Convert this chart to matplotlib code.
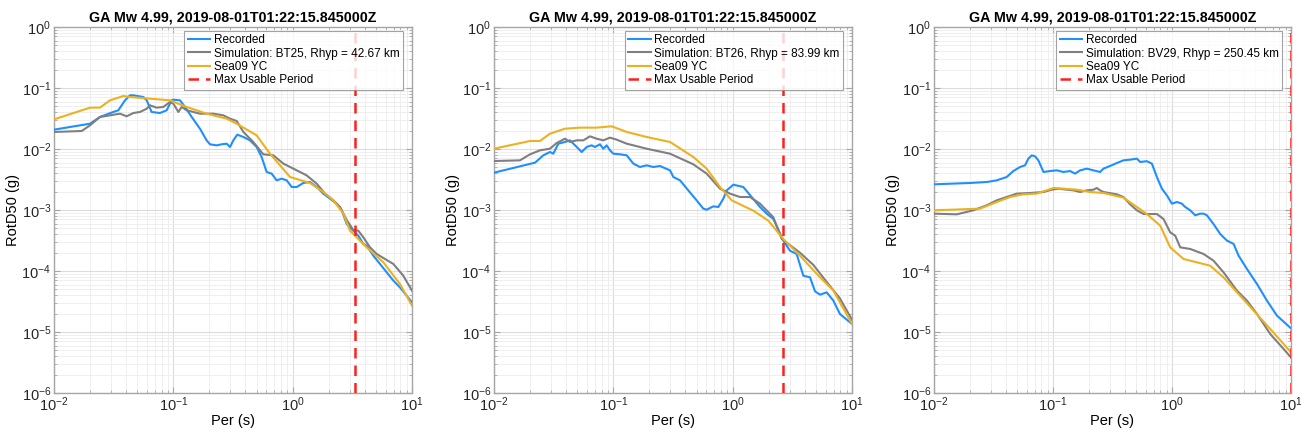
import numpy as np
import matplotlib
matplotlib.use("Agg")
import matplotlib.pyplot as plt
from matplotlib.ticker import LogLocator, NullFormatter

plt.rcParams['font.family'] = ['Liberation Sans', 'DejaVu Sans']
plt.rcParams['mathtext.fontset'] = 'custom'
plt.rcParams['mathtext.rm'] = 'Liberation Sans'

# ---------------- data (log10 period [s], log10 RotD50 [g]) ----------------
title = "GA Mw 4.99, 2019-08-01T01:22:15.845000Z"
sim_labels = ["Simulation: BT25, Rhyp = 42.67 km",
              "Simulation: BT26, Rhyp = 83.99 km",
              "Simulation: BV29, Rhyp = 250.45 km"]
max_usable_period = [3.33, 2.62, 10.0]

# Panel 1
rec1_logT = [-2.00, -1.698, -1.615, -1.503, -1.461, -1.405, -1.363, -1.335, -1.251, -1.223, -1.182, -1.112,
             -1.056, -1.014, -1.000, -0.944, -0.902, -0.846, -0.777, -0.721, -0.693, -0.637, -0.595, -0.553,
             -0.525, -0.497, -0.464, -0.413, -0.358, -0.302, -0.260, -0.218, -0.176, -0.134, -0.092, -0.050,
             -0.008, 0.034, 0.089, 0.145, 0.201, 0.257, 0.313, 0.369, 0.411, 0.453, 0.480, 0.508, 0.550,
             0.592, 0.620, 0.676, 0.732, 0.788, 0.844, 0.899, 1.000]
rec1_logSA = [-1.683, -1.585, -1.475, -1.393, -1.366, -1.202, -1.120, -1.120, -1.148, -1.202, -1.393, -1.410,
              -1.366, -1.202, -1.191, -1.202, -1.311, -1.475, -1.667, -1.858, -1.923, -1.940, -1.923, -1.913,
              -1.967, -1.858, -1.765, -1.803, -1.858, -1.967, -2.131, -2.377, -2.404, -2.514, -2.486, -2.514,
              -2.623, -2.623, -2.557, -2.541, -2.623, -2.732, -2.814, -2.896, -3.005, -3.230, -3.284, -3.339,
              -3.421, -3.557, -3.585, -3.749, -3.885, -4.022, -4.158, -4.268, -4.514]
sim1_logT = [-2.00, -1.768, -1.698, -1.615, -1.531, -1.447, -1.391, -1.335, -1.279, -1.223, -1.196, -1.140,
             -1.084, -1.028, -1.000, -0.958, -0.930, -0.888, -0.832, -0.777, -0.665, -0.581, -0.525, -0.469,
             -0.413, -0.330, -0.246, -0.162, -0.078, 0.006, 0.061, 0.117, 0.201, 0.271, 0.341, 0.397, 0.453,
             0.508, 0.550, 0.592, 0.648, 0.704, 0.760, 0.844, 0.927, 1.000]
sim1_logSA = [-1.721, -1.705, -1.612, -1.475, -1.448, -1.421, -1.464, -1.410, -1.393, -1.339, -1.284, -1.322,
              -1.311, -1.230, -1.257, -1.393, -1.311, -1.366, -1.393, -1.421, -1.421, -1.448, -1.503, -1.541,
              -1.721, -1.885, -2.087, -2.104, -2.240, -2.322, -2.377, -2.432, -2.568, -2.732, -2.842, -2.951,
              -3.164, -3.328, -3.339, -3.448, -3.612, -3.721, -3.787, -3.885, -4.077, -4.322]
gmm1_logT = [-2.00, -1.698, -1.615, -1.531, -1.419, -1.363, -1.196, -1.028, -0.888, -0.721, -0.553, -0.469,
             -0.302, -0.190, -0.022, 0.145, 0.257, 0.341, 0.425, 0.480, 0.620, 0.760, 0.899, 1.000]
gmm1_logSA = [-1.514, -1.322, -1.322, -1.202, -1.131, -1.148, -1.175, -1.202, -1.311, -1.421, -1.503, -1.585,
              -1.776, -2.077, -2.459, -2.557, -2.705, -2.842, -3.060, -3.339, -3.612, -3.858, -4.213, -4.568]

# Panel 2
rec2_logT = [-2.00, -1.656, -1.587, -1.531, -1.503, -1.461, -1.405, -1.363, -1.307, -1.265, -1.223, -1.182,
             -1.154, -1.112, -1.084, -1.056, -1.028, -1.000, -0.944, -0.888, -0.832, -0.777, -0.721, -0.665,
             -0.609, -0.525, -0.497, -0.441, -0.372, -0.302, -0.246, -0.218, -0.162, -0.120, -0.078, -0.050,
             0.006, 0.089, 0.159, 0.229, 0.285, 0.341, 0.425, 0.480, 0.536, 0.592, 0.648, 0.690, 0.732,
             0.788, 0.844, 0.899, 1.000]
rec2_logSA = [-2.388, -2.224, -2.104, -2.049, -2.077, -1.913, -1.885, -1.858, -1.967, -2.049, -1.967, -1.940,
              -1.967, -1.923, -1.995, -1.940, -2.022, -2.077, -2.087, -2.104, -2.240, -2.295, -2.268, -2.295,
              -2.279, -2.350, -2.459, -2.514, -2.678, -2.842, -2.978, -2.995, -2.940, -2.951, -2.814, -2.678,
              -2.585, -2.623, -2.787, -2.951, -3.060, -3.148, -3.503, -3.667, -3.721, -4.077, -4.104, -4.333,
              -4.388, -4.350, -4.486, -4.705, -4.869]
sim2_logT = [-2.00, -1.782, -1.698, -1.615, -1.531, -1.475, -1.405, -1.363, -1.307, -1.251, -1.196, -1.140,
             -1.084, -1.028, -0.972, -0.888, -0.721, -0.525, -0.330, -0.218, -0.106, -0.022, 0.061, 0.145,
             0.229, 0.341, 0.411, 0.564, 0.676, 0.788, 0.899, 1.000]
sim2_logSA = [-2.197, -2.186, -2.087, -2.022, -1.995, -1.902, -1.831, -1.885, -1.858, -1.858, -1.792, -1.831,
              -1.858, -1.814, -1.847, -1.913, -1.995, -2.077, -2.251, -2.404, -2.650, -2.732, -2.787, -2.787,
              -2.896, -3.120, -3.475, -3.700, -3.900, -4.180, -4.450, -4.800]
gmm2_logT = [-2.00, -1.698, -1.615, -1.531, -1.405, -1.279, -1.140, -1.014, -0.888, -0.721, -0.525, -0.330,
             -0.218, -0.106, -0.008, 0.173, 0.299, 0.425, 0.564, 0.732, 0.844, 1.000]
gmm2_logSA = [-1.995, -1.869, -1.869, -1.749, -1.667, -1.650, -1.650, -1.628, -1.721, -1.803, -1.885, -2.131,
              -2.322, -2.623, -2.842, -3.011, -3.175, -3.475, -3.749, -4.104, -4.322, -4.869]

# Panel 3
rec3_logT = [-2.000, -1.697, -1.557, -1.473, -1.389, -1.333, -1.277, -1.235, -1.207, -1.179, -1.151, -1.123,
             -1.080, -1.024, -0.968, -0.912, -0.856, -0.814, -0.772, -0.716, -0.660, -0.604, -0.576, -0.520,
             -0.464, -0.408, -0.352, -0.295, -0.267, -0.211, -0.169, -0.127, -0.085, -0.043, -0.001, 0.041,
             0.083, 0.111, 0.153, 0.195, 0.237, 0.265, 0.293, 0.349, 0.405, 0.461, 0.518, 0.560, 0.630,
             0.714, 0.798, 0.882, 1.000]
rec3_logSA = [-2.579, -2.557, -2.541, -2.514, -2.459, -2.361, -2.295, -2.268, -2.158, -2.104, -2.120, -2.186,
              -2.377, -2.361, -2.350, -2.377, -2.361, -2.404, -2.350, -2.322, -2.350, -2.377, -2.322, -2.278,
              -2.230, -2.186, -2.175, -2.158, -2.213, -2.200, -2.240, -2.459, -2.650, -2.760, -2.896, -2.869,
              -2.896, -2.951, -3.005, -3.087, -3.060, -3.060, -3.087, -3.230, -3.393, -3.500, -3.557, -3.750,
              -3.967, -4.213, -4.486, -4.732, -4.940]
sim3_logT = [-2.000, -1.809, -1.669, -1.557, -1.473, -1.389, -1.305, -1.193, -1.080, -1.010, -0.954, -0.884,
             -0.828, -0.772, -0.716, -0.660, -0.632, -0.604, -0.576, -0.464, -0.408, -0.352, -0.295, -0.239,
             -0.127, -0.071, -0.015, 0.027, 0.069, 0.153, 0.265, 0.349, 0.433, 0.546, 0.630, 0.714, 0.826,
             0.938, 1.000]
sim3_logSA = [-3.060, -3.071, -3.005, -2.923, -2.842, -2.787, -2.732, -2.721, -2.705, -2.667, -2.650, -2.667,
              -2.678, -2.705, -2.678, -2.667, -2.639, -2.678, -2.705, -2.743, -2.787, -2.907, -3.005, -3.066,
              -3.066, -3.148, -3.366, -3.421, -3.612, -3.639, -3.721, -3.831, -4.022, -4.322, -4.486, -4.705,
              -5.033, -5.279, -5.415]
gmm3_logT = [-2.000, -1.613, -1.473, -1.361, -1.249, -1.137, -0.996, -0.912, -0.800, -0.688, -0.576, -0.408,
             -0.295, -0.211, -0.099, -0.015, 0.097, 0.209, 0.321, 0.433, 0.546, 0.686, 0.826, 1.000]
gmm3_logSA = [-3.005, -2.978, -2.869, -2.787, -2.743, -2.732, -2.639, -2.650, -2.667, -2.705, -2.721, -2.798,
              -2.951, -3.066, -3.257, -3.612, -3.803, -3.858, -3.913, -4.104, -4.350, -4.650, -4.951, -5.333]

panels = [
    (rec1_logT, rec1_logSA, sim1_logT, sim1_logSA, gmm1_logT, gmm1_logSA),
    (rec2_logT, rec2_logSA, sim2_logT, sim2_logSA, gmm2_logT, gmm2_logSA),
    (rec3_logT, rec3_logSA, sim3_logT, sim3_logSA, gmm3_logT, gmm3_logSA),
]

# ---------------- styling ----------------
C_REC = '#1f8fff'
C_SIM = '#7f7f7f'
C_GMM = '#edb120'
C_MUP = '#ff1f1f'
C_AX = '#a6a6a6'

W, H = 1309, 437
fig = plt.figure(figsize=(W / 100, H / 100), dpi=100)
lefts = [54, 494, 934]
widths = [358, 358, 357]
top_px, bot_px = 27, 393

for i, (rT, rS, sT, sS, gT, gS) in enumerate(panels):
    ax = fig.add_axes([lefts[i] / W, (H - bot_px) / H, widths[i] / W, (bot_px - top_px) / H])
    ax.set_xscale('log')
    ax.set_yscale('log')
    ax.set_xlim(1e-2, 1e1)
    ax.set_ylim(1e-6, 1e0)
    ax.plot(10 ** np.array(rT), 10 ** np.array(rS), color=C_REC, lw=1.5, label='Recorded', zorder=3)
    ax.plot(10 ** np.array(sT), 10 ** np.array(sS), color=C_SIM, lw=1.5, label=sim_labels[i], zorder=3)
    ax.plot(10 ** np.array(gT), 10 ** np.array(gS), color=C_GMM, lw=1.5, label='Sea09 YC', zorder=3)
    ax.axvline(max_usable_period[i], color=C_MUP, lw=1.8, ls=(0, (4.2, 2.8)),
               label='Max Usable Period', zorder=4)

    ax.xaxis.set_major_locator(LogLocator(base=10, numticks=10))
    ax.yaxis.set_major_locator(LogLocator(base=10, numticks=10))
    ax.xaxis.set_minor_locator(LogLocator(base=10, subs=np.arange(2, 10), numticks=20))
    ax.yaxis.set_minor_locator(LogLocator(base=10, subs=np.arange(2, 10), numticks=20))
    ax.xaxis.set_minor_formatter(NullFormatter())
    ax.yaxis.set_minor_formatter(NullFormatter())
    ax.grid(True, which='major', color='#dcdcdc', lw=0.8)
    ax.grid(True, which='minor', color='#ececec', lw=0.6)
    ax.set_axisbelow(True)
    for sp in ax.spines.values():
        sp.set_color(C_AX)
        sp.set_linewidth(1.0)
    ax.tick_params(which='both', direction='in', colors=C_AX, labelcolor='#262626',
                   top=True, right=True, labelsize=10.5)
    ax.tick_params(which='major', length=4)
    ax.tick_params(which='minor', length=2)
    ax.tick_params(axis='x', which='major', pad=2)
    ax.tick_params(axis='y', which='major', pad=2)

    ax.set_title(title, fontsize=10.3, fontweight='bold', pad=4)
    ax.set_xlabel('Per (s)', fontsize=10.5, labelpad=0)
    ax.set_ylabel('RotD50 (g)', fontsize=10.5, labelpad=1)

    leg = ax.legend(loc='upper right', fontsize=8.5, frameon=True, fancybox=False,
                    handlelength=1.9, handletextpad=0.3, borderpad=0.3, labelspacing=0.12,
                    borderaxespad=0.3, bbox_to_anchor=(0.985, 1.0))
    leg.get_frame().set_edgecolor('#8c8c8c')
    leg.get_frame().set_linewidth(0.8)

fig.savefig('out.png', dpi=100)
